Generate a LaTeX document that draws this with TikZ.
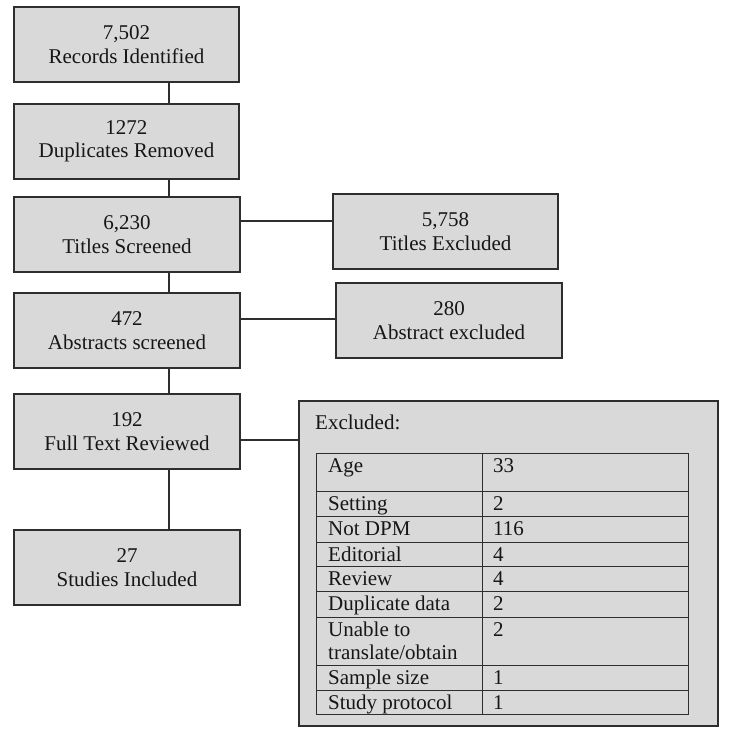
\documentclass[tikz,border=0pt]{standalone}
\usepackage{fontspec}
\setmainfont{Liberation Serif}
\definecolor{bg}{HTML}{D9D9D9}
\definecolor{lc}{HTML}{2E2E2E}
\definecolor{tc}{HTML}{161616}
\newcommand\mytabrow[5]{%
  \pgfmathsetmacro\myrh{#3-#2}%
  \node[cell,minimum width=166pt,minimum height=\myrh pt] (#1l) at (316,#2) {};
  \node[cell,minimum width=206pt,minimum height=\myrh pt] (#1r) at (482,#2) {};
  \node[ctext] (#1lt) at (328,#2+19) {#4};
  \node[ctext] (#1rt) at (493,#2+19) {#5};
}
\begin{document}
\begin{tikzpicture}[x=1pt,y=-1pt,
  box/.style={draw=lc,fill=bg,line width=1.3pt,inner sep=0pt,align=center,
    font=\fontsize{21}{23.5}\selectfont,text=tc},
  link/.style={draw=lc,line width=1.3pt},
  cell/.style={draw=lc,line width=1.3pt,inner sep=0pt,anchor=north west},
  ctext/.style={anchor=base west,inner sep=0pt,font=\fontsize{21}{24}\selectfont,text=tc}]
\useasboundingbox[fill=white] (0,0) rectangle (745,744);
% main column
\node[box,minimum width=225pt,minimum height=75pt] (rec) at (126.5,44.5) {7,502\\Records Identified};
\node[box,minimum width=225pt,minimum height=75pt] (dup) at (126.5,141.5) {1272\\Duplicates Removed};
\node[box,minimum width=226pt,minimum height=75pt] (scr) at (127,234.5) {6,230\\Titles Screened};
\node[box,minimum width=226pt,minimum height=75pt] (abs) at (127,330.5) {472\\Abstracts screened};
\node[box,minimum width=226pt,minimum height=75pt] (ftr) at (127,431.5) {192\\Full Text Reviewed};
\node[box,minimum width=226pt,minimum height=75pt] (inc) at (127,567.5) {27\\Studies Included};
% side boxes
\node[box,minimum width=225pt,minimum height=75pt] (tex) at (445.5,231.5) {5,758\\Titles Excluded};
\node[box,minimum width=226pt,minimum height=75pt] (aex) at (449,320.5) {280\\Abstract excluded};
\node[box,minimum width=419pt,minimum height=325pt] (exc) at (508.5,563.5) {};
\node[ctext] (exclbl) at (315,429) {Excluded:};
% connectors
\coordinate (vx) at (169,0);
\draw[link] (rec.south -| vx) -- (dup.north -| vx);
\draw[link] (dup.south -| vx) -- (scr.north -| vx);
\draw[link] (scr.south -| vx) -- (abs.north -| vx);
\draw[link] (abs.south -| vx) -- (ftr.north -| vx);
\draw[link] (ftr.south -| vx) -- (inc.north -| vx);
\coordinate (h1) at (0,221);
\coordinate (h2) at (0,319);
\coordinate (h3) at (0,440);
\draw[link] (scr.east |- h1) -- (tex.west |- h1);
\draw[link] (abs.east |- h2) -- (aex.west |- h2);
\draw[link] (ftr.east |- h3) -- (exc.west |- h3);
% table
\mytabrow{ra}{453}{491}{Age}{33}
\mytabrow{rb}{491}{516}{Setting}{2}
\mytabrow{rc}{516}{542}{Not DPM}{116}
\mytabrow{rd}{542}{566}{Editorial}{4}
\mytabrow{re}{566}{591}{Review}{4}
\mytabrow{rf}{591}{617}{Duplicate data}{2}
\mytabrow{rg}{617}{665}{Unable to}{2}
\node[ctext] (rglt2) at (328,659) {translate/obtain};
\mytabrow{rh}{665}{690}{Sample size}{1}
\mytabrow{ri}{690}{714}{Study protocol}{1}
\end{tikzpicture}
\end{document}
